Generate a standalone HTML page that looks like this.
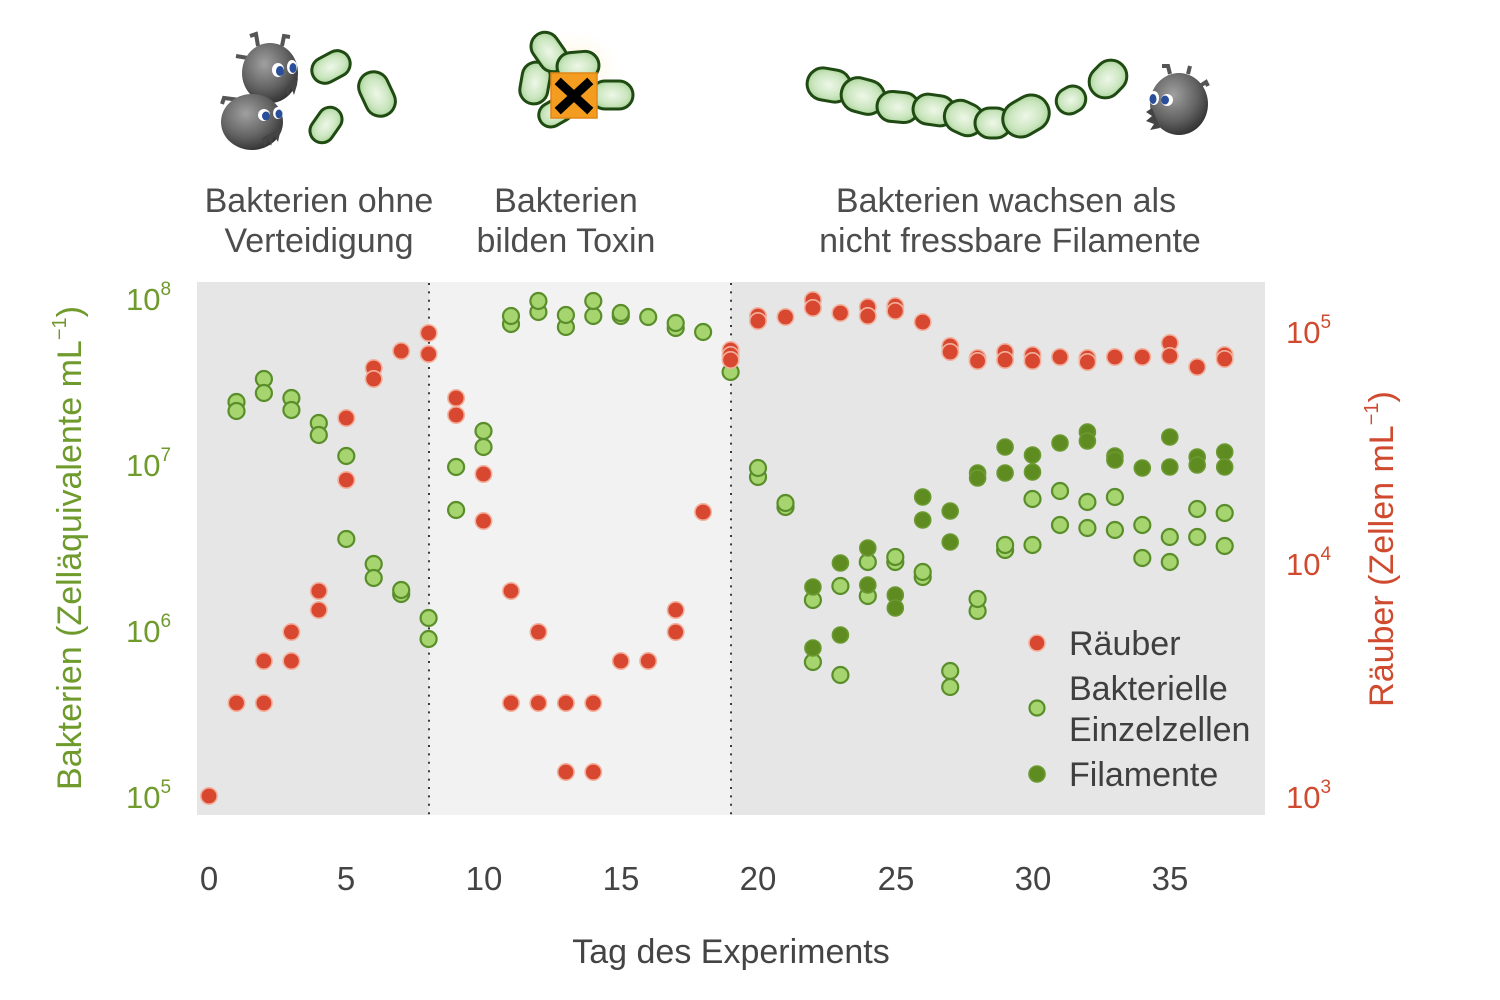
<!DOCTYPE html>
<html>
<head>
<meta charset="utf-8">
<style>
html,body{margin:0;padding:0;background:#fff;}
svg{display:block;}
text{font-family:"Liberation Sans",Arial,sans-serif;}
.r{fill:#d8472f;stroke:#f2b09d;stroke-width:1.6;}
.g{fill:#a6d46f;stroke:#5a8e2a;stroke-width:2.2;}
.f{fill:#5e8c20;stroke:#6c9a32;stroke-width:1.6;}
.cap{fill:url(#capg);stroke:#1f4a12;stroke-width:3;}
</style>
</head>
<body>
<svg width="1500" height="1000" viewBox="0 0 1500 1000" xmlns="http://www.w3.org/2000/svg">
<defs>
  <radialGradient id="capg" cx="50%" cy="50%" r="60%">
    <stop offset="0" stop-color="#eef7e8"/>
    <stop offset="0.6" stop-color="#cbe6bf"/>
    <stop offset="1" stop-color="#9ccc8c"/>
  </radialGradient>
  <radialGradient id="mon" cx="40%" cy="35%" r="70%">
    <stop offset="0" stop-color="#a0a0a0"/>
    <stop offset="0.6" stop-color="#626262"/>
    <stop offset="1" stop-color="#2e2e2e"/>
  </radialGradient>
  <radialGradient id="glow" cx="50%" cy="50%" r="50%">
    <stop offset="0" stop-color="#fff2c8" stop-opacity="0.9"/>
    <stop offset="1" stop-color="#fff8e8" stop-opacity="0"/>
  </radialGradient>
</defs>

<!-- ===== Illustrations ===== -->
<g>
  <path d="M258 46 L256 34 L250 36" stroke="#555" stroke-width="4" fill="none"/>
  <path d="M282 46 L284 36 L290 37" stroke="#555" stroke-width="4" fill="none"/>
  <path d="M248 58 L236 56" stroke="#555" stroke-width="4" fill="none"/>
  <ellipse cx="270" cy="73" rx="28" ry="30" fill="url(#mon)"/>
  <path d="M285 88 L288 96 L291 87 L294 95 L297 85 L298 78 Z" fill="#444"/>
  <ellipse cx="278" cy="70" rx="6" ry="7" fill="#fff"/>
  <ellipse cx="280" cy="71" rx="4" ry="5" fill="#2a4f9a"/>
  <ellipse cx="292" cy="67" rx="5" ry="7" fill="#fff"/>
  <ellipse cx="293" cy="68" rx="3.5" ry="5" fill="#2a4f9a"/>
</g>
<g>
  <path d="M240 100 L224 98 L222 104" stroke="#555" stroke-width="4" fill="none"/>
  <ellipse cx="252" cy="122" rx="31" ry="28" fill="url(#mon)"/>
  <path d="M262 138 L265 147 L268 137 L271 146 L274 135 L278 142 L281 128 Z" fill="#444"/>
  <ellipse cx="264" cy="115" rx="6" ry="6" fill="#fff"/>
  <ellipse cx="266" cy="116" rx="4" ry="4.5" fill="#2a4f9a"/>
  <ellipse cx="278" cy="113" rx="5" ry="6" fill="#fff"/>
  <ellipse cx="279" cy="114" rx="3.5" ry="4.5" fill="#2a4f9a"/>
</g>
<rect class="cap" x="-20" y="-13" width="40" height="26" rx="13" transform="translate(331,67) rotate(-28)"/>
<rect class="cap" x="-23" y="-15" width="46" height="30" rx="15" transform="translate(377,94) rotate(65)"/>
<rect class="cap" x="-19" y="-12" width="38" height="24" rx="12" transform="translate(326,125) rotate(-55)"/>

<ellipse cx="575" cy="70" rx="45" ry="40" fill="url(#glow)"/>
<rect class="cap" x="-18" y="-12" width="36" height="24" rx="12" transform="translate(556,112) rotate(-30)"/>
<rect class="cap" x="-21" y="-14" width="42" height="28" rx="14" transform="translate(612,95) rotate(0)"/>
<rect class="cap" x="-21" y="-14" width="42" height="28" rx="14" transform="translate(535,83) rotate(-80)"/>
<rect class="cap" x="-21" y="-14" width="42" height="28" rx="14" transform="translate(549,52) rotate(55)"/>
<rect class="cap" x="-21" y="-14" width="42" height="28" rx="14" transform="translate(578,66) rotate(-5)"/>
<rect x="551" y="73" width="46" height="45" fill="#f39c1f" stroke="#e0861a" stroke-width="1.5"/>
<path d="M561 84 L587 108 M587 84 L561 108" stroke="#000" stroke-width="9" stroke-linecap="square"/>

<rect class="cap" x="-22" y="-16" width="44" height="32" rx="16" transform="translate(829,85) rotate(10)"/>
<rect class="cap" x="-22" y="-17" width="44" height="34" rx="17" transform="translate(863,96) rotate(15)"/>
<rect class="cap" x="-21" y="-15" width="42" height="30" rx="15" transform="translate(898,107) rotate(5)"/>
<rect class="cap" x="-21" y="-15" width="42" height="30" rx="15" transform="translate(934,110) rotate(8)"/>
<rect class="cap" x="-20" y="-16" width="40" height="32" rx="16" transform="translate(964,118) rotate(25)"/>
<rect class="cap" x="-18" y="-15" width="36" height="30" rx="15" transform="translate(993,123) rotate(0)"/>
<rect class="cap" x="-24" y="-18" width="48" height="36" rx="18" transform="translate(1026,116) rotate(-30)"/>
<rect class="cap" x="-15" y="-13" width="30" height="26" rx="13" transform="translate(1071,100) rotate(-30)"/>
<rect class="cap" x="-20" y="-16" width="40" height="32" rx="16" transform="translate(1108,79) rotate(-45)"/>

<g>
  <path d="M1170 74 L1168 66 L1162 66" stroke="#555" stroke-width="4" fill="none"/>
  <path d="M1188 74 L1190 66" stroke="#555" stroke-width="4" fill="none"/>
  <path d="M1200 86 L1206 82 L1208 86" stroke="#555" stroke-width="4" fill="none"/>
  <ellipse cx="1179" cy="104" rx="29" ry="31" fill="url(#mon)"/>
  <path d="M1152 108 L1146 112 L1152 116 L1146 121 L1154 124 L1150 130 L1160 128 Z" fill="#444"/>
  <ellipse cx="1154" cy="98" rx="5" ry="7" fill="#fff"/>
  <ellipse cx="1153" cy="99" rx="3.5" ry="5" fill="#2a4f9a"/>
  <ellipse cx="1167" cy="100" rx="6" ry="6" fill="#fff"/>
  <ellipse cx="1165" cy="100" rx="4" ry="4.5" fill="#2a4f9a"/>
</g>

<!-- ===== Header text ===== -->
<g font-size="34" fill="#4d4d4d" text-anchor="middle">
  <text x="319" y="212">Bakterien ohne</text>
  <text x="319" y="252">Verteidigung</text>
  <text x="566" y="212">Bakterien</text>
  <text x="566" y="252">bilden Toxin</text>
  <text x="1006" y="212">Bakterien wachsen als</text>
  <text x="1010" y="252">nicht fressbare Filamente</text>
</g>

<!-- ===== Plot background ===== -->
<rect x="197" y="282" width="232" height="533" fill="#e6e6e6"/>
<rect x="429" y="282" width="302" height="533" fill="#f2f2f2"/>
<rect x="731" y="282" width="534" height="533" fill="#e6e6e6"/>
<line x1="429" y1="283" x2="429" y2="815" stroke="#3c3c3c" stroke-width="2" stroke-dasharray="2 6.4"/>
<line x1="731" y1="283" x2="731" y2="815" stroke="#3c3c3c" stroke-width="2" stroke-dasharray="2 6.4"/>

<!-- ===== Light green: Einzelzellen ===== -->
<g class="g">
<circle cx="236.5" cy="402" r="8"/><circle cx="236.5" cy="411" r="8"/>
<circle cx="263.9" cy="379" r="8"/><circle cx="263.9" cy="393" r="8"/>
<circle cx="291.4" cy="398" r="8"/><circle cx="291.4" cy="410" r="8"/>
<circle cx="318.8" cy="423" r="8"/><circle cx="318.8" cy="435" r="8"/>
<circle cx="346.3" cy="456" r="8"/><circle cx="346.3" cy="539" r="8"/>
<circle cx="373.7" cy="564" r="8"/><circle cx="373.7" cy="578" r="8"/>
<circle cx="401.2" cy="594" r="8"/><circle cx="401.2" cy="590" r="8"/>
<circle cx="428.6" cy="618" r="8"/><circle cx="428.6" cy="639" r="8"/>
<circle cx="456.1" cy="467" r="8"/><circle cx="456.1" cy="510" r="8"/>
<circle cx="483.5" cy="431" r="8"/><circle cx="483.5" cy="447" r="8"/>
<circle cx="511" cy="324" r="8"/><circle cx="511" cy="316" r="8"/>
<circle cx="538.4" cy="312" r="8"/><circle cx="538.4" cy="301" r="8"/>
<circle cx="565.9" cy="327" r="8"/><circle cx="565.9" cy="315" r="8"/>
<circle cx="593.3" cy="316" r="8"/><circle cx="593.3" cy="301" r="8"/>
<circle cx="620.8" cy="316" r="8"/><circle cx="620.8" cy="313" r="8"/>
<circle cx="648.2" cy="317" r="8"/>
<circle cx="675.7" cy="328" r="8"/><circle cx="675.7" cy="323" r="8"/>
<circle cx="703.1" cy="332" r="8"/>
<circle cx="730.6" cy="372" r="8"/>
<circle cx="758" cy="477" r="8"/><circle cx="758" cy="468" r="8"/>
<circle cx="785.5" cy="507" r="8"/><circle cx="785.5" cy="503" r="8"/>
<circle cx="812.9" cy="600" r="8"/><circle cx="812.9" cy="662" r="8"/>
<circle cx="840.4" cy="586" r="8"/><circle cx="840.4" cy="675" r="8"/>
<circle cx="867.8" cy="562" r="8"/><circle cx="867.8" cy="596" r="8"/>
<circle cx="895.3" cy="562" r="8"/><circle cx="895.3" cy="557" r="8"/>
<circle cx="922.7" cy="577" r="8"/><circle cx="922.7" cy="572" r="8"/>
<circle cx="950.2" cy="671" r="8"/><circle cx="950.2" cy="687" r="8"/>
<circle cx="977.6" cy="611" r="8"/><circle cx="977.6" cy="599" r="8"/>
<circle cx="1005.1" cy="550" r="8"/><circle cx="1005.1" cy="545" r="8"/>
<circle cx="1032.5" cy="499" r="8"/><circle cx="1032.5" cy="545" r="8"/>
<circle cx="1060" cy="491" r="8"/><circle cx="1060" cy="525" r="8"/>
<circle cx="1087.4" cy="502" r="8"/><circle cx="1087.4" cy="528" r="8"/>
<circle cx="1114.9" cy="497" r="8"/><circle cx="1114.9" cy="530" r="8"/>
<circle cx="1142.3" cy="525" r="8"/><circle cx="1142.3" cy="558" r="8"/>
<circle cx="1169.8" cy="537" r="8"/><circle cx="1169.8" cy="562" r="8"/>
<circle cx="1197.2" cy="509" r="8"/><circle cx="1197.2" cy="537" r="8"/>
<circle cx="1224.7" cy="513" r="8"/><circle cx="1224.7" cy="546" r="8"/>
</g>

<!-- ===== Dark green: Filamente ===== -->
<g class="f">
<circle cx="812.9" cy="587" r="8"/><circle cx="812.9" cy="648" r="8"/>
<circle cx="840.4" cy="563" r="8"/><circle cx="840.4" cy="635" r="8"/>
<circle cx="867.8" cy="548" r="8"/><circle cx="867.8" cy="585" r="8"/>
<circle cx="895.3" cy="595" r="8"/><circle cx="895.3" cy="608" r="8"/>
<circle cx="922.7" cy="497" r="8"/><circle cx="922.7" cy="520" r="8"/>
<circle cx="950.2" cy="511" r="8"/><circle cx="950.2" cy="542" r="8"/>
<circle cx="977.6" cy="473" r="8"/><circle cx="977.6" cy="478" r="8"/>
<circle cx="1005.1" cy="447" r="8"/><circle cx="1005.1" cy="473" r="8"/>
<circle cx="1032.5" cy="455" r="8"/><circle cx="1032.5" cy="472" r="8"/>
<circle cx="1060" cy="443" r="8"/>
<circle cx="1087.4" cy="432" r="8"/><circle cx="1087.4" cy="441" r="8"/>
<circle cx="1114.9" cy="456" r="8"/><circle cx="1114.9" cy="460" r="8"/>
<circle cx="1142.3" cy="468" r="8"/>
<circle cx="1169.8" cy="437" r="8"/><circle cx="1169.8" cy="467" r="8"/>
<circle cx="1197.2" cy="457" r="8"/><circle cx="1197.2" cy="465" r="8"/>
<circle cx="1224.7" cy="452" r="8"/><circle cx="1224.7" cy="467" r="8"/>
</g>

<!-- ===== Red: Räuber ===== -->
<g class="r">
<circle cx="209" cy="796" r="8.2"/>
<circle cx="236.5" cy="703" r="8.2"/>
<circle cx="263.9" cy="661" r="8.2"/><circle cx="263.9" cy="703" r="8.2"/>
<circle cx="291.4" cy="632" r="8.2"/><circle cx="291.4" cy="661" r="8.2"/>
<circle cx="318.8" cy="591" r="8.2"/><circle cx="318.8" cy="610" r="8.2"/>
<circle cx="346.3" cy="418" r="8.2"/><circle cx="346.3" cy="480" r="8.2"/>
<circle cx="373.7" cy="368" r="8.2"/><circle cx="373.7" cy="379" r="8.2"/>
<circle cx="401.2" cy="351" r="8.2"/>
<circle cx="428.6" cy="333" r="8.2"/><circle cx="428.6" cy="354" r="8.2"/>
<circle cx="456.1" cy="398" r="8.2"/><circle cx="456.1" cy="415" r="8.2"/>
<circle cx="483.5" cy="474" r="8.2"/><circle cx="483.5" cy="521" r="8.2"/>
<circle cx="511" cy="591" r="8.2"/><circle cx="511" cy="703" r="8.2"/>
<circle cx="538.4" cy="632" r="8.2"/><circle cx="538.4" cy="703" r="8.2"/>
<circle cx="565.9" cy="703" r="8.2"/><circle cx="565.9" cy="772" r="8.2"/>
<circle cx="593.3" cy="703" r="8.2"/><circle cx="593.3" cy="772" r="8.2"/>
<circle cx="620.8" cy="661" r="8.2"/>
<circle cx="648.2" cy="661" r="8.2"/>
<circle cx="675.7" cy="610" r="8.2"/><circle cx="675.7" cy="632" r="8.2"/>
<circle cx="703.1" cy="512" r="8.2"/>
<circle cx="730.6" cy="350" r="8.2"/><circle cx="730.6" cy="355" r="8.2"/><circle cx="730.6" cy="360" r="8.2"/>
<circle cx="758" cy="316" r="8.2"/><circle cx="758" cy="321" r="8.2"/>
<circle cx="785.5" cy="317" r="8.2"/>
<circle cx="812.9" cy="300" r="8.2"/><circle cx="812.9" cy="308" r="8.2"/>
<circle cx="840.4" cy="313" r="8.2"/>
<circle cx="867.8" cy="307" r="8.2"/><circle cx="867.8" cy="316" r="8.2"/>
<circle cx="895.3" cy="306" r="8.2"/><circle cx="895.3" cy="311" r="8.2"/>
<circle cx="922.7" cy="322" r="8.2"/>
<circle cx="950.2" cy="346" r="8.2"/><circle cx="950.2" cy="352" r="8.2"/>
<circle cx="977.6" cy="358" r="8.2"/><circle cx="977.6" cy="361" r="8.2"/>
<circle cx="1005.1" cy="352" r="8.2"/><circle cx="1005.1" cy="360" r="8.2"/>
<circle cx="1032.5" cy="355" r="8.2"/><circle cx="1032.5" cy="361" r="8.2"/>
<circle cx="1060" cy="357" r="8.2"/>
<circle cx="1087.4" cy="358" r="8.2"/><circle cx="1087.4" cy="362" r="8.2"/>
<circle cx="1114.9" cy="357" r="8.2"/>
<circle cx="1142.3" cy="357" r="8.2"/>
<circle cx="1169.8" cy="343" r="8.2"/><circle cx="1169.8" cy="356" r="8.2"/>
<circle cx="1197.2" cy="367" r="8.2"/>
<circle cx="1224.7" cy="355" r="8.2"/><circle cx="1224.7" cy="359" r="8.2"/>
</g>

<!-- ===== Legend ===== -->
<circle class="r" cx="1037" cy="643" r="8"/>
<circle class="g" cx="1037" cy="708" r="7.5"/>
<circle class="f" cx="1037" cy="774" r="8"/>
<g font-size="34" fill="#3f3f3f">
  <text x="1069" y="655">Räuber</text>
  <text x="1069" y="700">Bakterielle</text>
  <text x="1069" y="741">Einzelzellen</text>
  <text x="1069" y="786">Filamente</text>
</g>

<!-- ===== Left axis ticks ===== -->
<g font-size="31" fill="#6f9a2c">
  <text x="126" y="310">10<tspan font-size="19" dy="-15">8</tspan></text>
  <text x="126" y="476">10<tspan font-size="19" dy="-15">7</tspan></text>
  <text x="126" y="642">10<tspan font-size="19" dy="-15">6</tspan></text>
  <text x="126" y="808">10<tspan font-size="19" dy="-15">5</tspan></text>
</g>
<!-- ===== Right axis ticks ===== -->
<g font-size="31" fill="#cf4a2e">
  <text x="1286" y="343">10<tspan font-size="19" dy="-15">5</tspan></text>
  <text x="1286" y="575">10<tspan font-size="19" dy="-15">4</tspan></text>
  <text x="1286" y="808">10<tspan font-size="19" dy="-15">3</tspan></text>
</g>

<!-- ===== X ticks ===== -->
<g font-size="33" fill="#444" text-anchor="middle">
  <text x="209" y="890">0</text>
  <text x="346" y="890">5</text>
  <text x="484" y="890">10</text>
  <text x="621" y="890">15</text>
  <text x="758" y="890">20</text>
  <text x="896" y="890">25</text>
  <text x="1033" y="890">30</text>
  <text x="1170" y="890">35</text>
</g>

<!-- ===== Axis titles ===== -->
<text x="731" y="963" font-size="34" fill="#444" text-anchor="middle">Tag des Experiments</text>
<text transform="translate(81,548) rotate(-90)" font-size="34" fill="#6f9a2c" text-anchor="middle">Bakterien (Zelläquivalente mL<tspan font-size="20" dy="-15">−1</tspan><tspan dy="15">)</tspan></text>
<text transform="translate(1393,549) rotate(-90)" font-size="34" fill="#cf4a2e" text-anchor="middle">Räuber (Zellen mL<tspan font-size="20" dy="-15">−1</tspan><tspan dy="15">)</tspan></text>
</svg>
</body>
</html>
